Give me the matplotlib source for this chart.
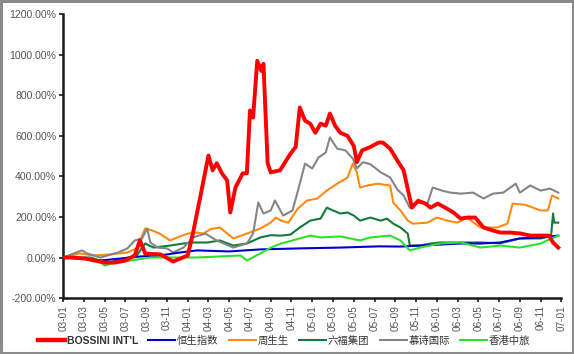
""" Relative performance: Bossini vs HK peers, 2003-2007 """

import matplotlib
matplotlib.use('Agg')
import matplotlib.pyplot as plt
from matplotlib.ticker import FuncFormatter
from matplotlib.patches import Rectangle

plt.rcParams['font.family'] = ['Liberation Sans', 'Noto Sans CJK SC', 'DejaVu Sans']

# data: x in months since 2003-01, y in % change

tick_labels = ['03-01', '03-03', '03-05', '03-07', '03-09', '03-11',
               '04-01', '04-03', '04-05', '04-07', '04-09', '04-11',
               '05-01', '05-03', '05-05', '05-07', '05-09', '05-11',
               '06-01', '06-03', '06-05', '06-07', '06-09', '06-11', '07-01']

names = ["BOSSINI INT'L", '恒生指数', '周生生', '六福集团', '慕诗国际', '香港中旅']

red_m = [0, 0.7, 2.1, 4.0, 5.0, 6.0, 6.9, 7.4, 7.9, 9.4, 10.6, 12.0, 12.5, 13.2,
         14.0, 14.4, 14.8, 15.3, 15.8, 16.1, 16.6, 17.3, 17.7, 18.0, 18.3, 18.7,
         19.1, 19.3, 19.7, 20.0, 20.9, 21.9, 22.4, 22.8, 23.3, 23.8, 24.3, 24.8,
         25.3, 25.7, 26.2, 26.7, 27.4, 28.0, 28.3, 28.8, 29.6, 30.4, 30.8, 31.5,
         32.2, 32.8, 33.3, 33.6, 34.2, 34.9, 35.4, 36.1, 36.8, 37.6, 38.3, 38.9,
         39.7, 40.5, 41.4, 42.1, 43.1, 44.1, 45.0, 46.0, 46.8, 47.2, 47.7]
red_v = [0, 0, -5, -25, -25, -15, 10, 85, 20, 15, -20, 10, 118, 296,
         503, 430, 465, 415, 380, 222, 345, 415, 415, 725, 690, 970,
         920, 955, 465, 420, 430, 512, 545, 740, 675, 660, 615, 660,
         650, 710, 650, 615, 600, 550, 470, 528, 545, 567, 567, 537,
         478, 430, 315, 246, 280, 266, 246, 266, 246, 222, 192, 197,
         197, 148, 133, 123, 123, 118, 108, 108, 108, 74, 49]

blue_m = [0, 1.8, 3.6, 5.5, 7.4, 9.3, 11.3, 12.9, 16.0, 19.0, 22.8, 26.7,
          30.4, 32.5, 34.4, 38.3, 40.2, 42.1, 44.0, 46.0, 47.7]
blue_v = [0, -5, -15, -5, 5, 10, 25, 35, 30, 40, 45, 49,
          55, 54, 59, 69, 69, 74, 94, 99, 108]

orange_m = [0, 1.6, 2.9, 4.5, 6.2, 7.1, 7.9, 8.6, 9.3, 10.3, 11.0, 12.0, 12.9,
            13.5, 14.2, 15.1, 16.4, 17.7, 19.0, 20.0, 20.5, 21.0, 21.7, 22.6,
            23.5, 24.5, 25.4, 26.4, 27.4, 27.9, 28.3, 28.6, 29.3, 30.3, 31.5,
            31.8, 32.5, 33.2, 33.7, 35.1, 36.0, 37.0, 38.0, 38.9, 40.2, 41.8,
            42.8, 43.3, 44.5, 46.0, 46.7, 47.1, 47.7]
orange_v = [0, 20, 10, 15, 25, 45, 143, 133, 118, 84, 99, 118, 123,
            118, 140, 148, 94, 118, 143, 172, 197, 182, 172, 241,
            281, 291, 330, 364, 394, 463, 419, 345, 355, 364, 355,
            271, 232, 182, 167, 172, 197, 182, 172, 197, 148, 148,
            167, 266, 260, 232, 232, 306, 291]

dgreen_m = [0, 2.6, 3.6, 4.5, 5.5, 7.1, 7.9, 8.7, 10.3, 11.6, 12.5, 13.9, 15.1,
            16.4, 17.7, 19.0, 20.0, 21.0, 21.9, 22.8, 23.8, 24.8, 25.4, 26.0,
            26.7, 27.4, 28.0, 28.6, 29.6, 30.6, 31.2, 31.8, 32.5, 33.2, 33.4,
            34.4, 35.4, 36.3, 38.3, 40.2, 42.1, 44.0, 46.0, 47.0, 47.2, 47.3, 47.7]
dgreen_v = [0, 0, -15, -25, -10, 10, 69, 49, 59, 69, 74, 74, 84,
            59, 69, 99, 110, 108, 113, 148, 182, 192, 246, 232,
            217, 222, 207, 182, 197, 182, 192, 167, 148, 118, 59,
            59, 69, 74, 74, 74, 70, 94, 94, 105, 217, 172, 172]

gray_m = [0, 1.8, 2.3, 3.6, 5.3, 6.2, 6.9, 7.6, 8.1, 8.4, 9.1, 10.0, 10.6, 11.6,
          12.5, 13.7, 14.8, 16.4, 17.7, 18.3, 18.8, 19.3, 20.0, 20.4, 21.2, 22.1,
          22.7, 23.3, 24.0, 24.6, 25.3, 25.7, 26.4, 27.2, 27.9, 28.3, 28.9, 29.6,
          30.6, 31.5, 32.2, 32.8, 33.4, 34.1, 35.1, 35.6, 36.5, 37.3, 38.3, 39.5,
          40.5, 41.4, 42.4, 43.6, 44.0, 45.0, 46.0, 46.9, 47.7]
gray_v = [0, 35, 20, 0, 25, 45, 84, 94, 143, 74, 49, 45, 25, 49,
          99, 118, 84, 49, 69, 118, 271, 217, 232, 281, 207, 232,
          345, 463, 439, 493, 518, 592, 537, 528, 488, 440, 470, 460,
          420, 395, 335, 306, 245, 271, 266, 345, 330, 320, 315, 320,
          291, 315, 320, 364, 320, 355, 330, 340, 320]

lgreen_m = [0, 2.6, 3.6, 4.0, 5.0, 6.5, 8.4, 10.3, 12.9, 17.1, 17.7, 19.0, 20.0,
            21.0, 22.8, 23.8, 24.8, 26.7, 28.6, 29.6, 31.5, 32.5, 33.4, 34.4,
            36.3, 38.3, 40.2, 42.1, 44.0, 46.0, 47.7]
lgreen_v = [0, -5, -25, -40, -25, -15, 0, 0, 0, 10, -15, 20, 49,
            69, 94, 108, 99, 104, 84, 99, 108, 84, 35, 49,
            69, 74, 49, 59, 49, 69, 108]

# figure design

fig = plt.figure(figsize=(5.74, 3.54), dpi=100)
ax = fig.add_axes([0.110, 0.158, 0.868, 0.802])

ax.plot(red_m, red_v, color='#ff0000', lw=2.8, label=names[0], zorder=6)
ax.plot(blue_m, blue_v, color='#0000cc', lw=1.5, label=names[1], zorder=4)
ax.plot(orange_m, orange_v, color='#ff8a10', lw=1.5, label=names[2], zorder=3)
ax.plot(dgreen_m, dgreen_v, color='#137a3c', lw=1.5, label=names[3], zorder=3)
ax.plot(gray_m, gray_v, color='#858585', lw=1.5, label=names[4], zorder=3)
ax.plot(lgreen_m, lgreen_v, color='#2ee02e', lw=1.5, label=names[5], zorder=5)

ax.set_xlim(0, 48)
ax.set_ylim(-200, 1200)
ax.set_xticks(range(0, 49, 2))
ax.set_xticklabels(tick_labels, rotation=90)
ax.set_yticks(range(-200, 1201, 200))
ax.yaxis.set_major_formatter(FuncFormatter(lambda v, p: f'{v:.2f}%'))

for s in ['top', 'right']:
    ax.spines[s].set_visible(False)
for s in ['left', 'bottom']:
    ax.spines[s].set_linewidth(1.8)
    ax.spines[s].set_color('#1a1a1a')
ax.tick_params(axis='both', length=3, width=1.2, color='#1a1a1a',
               labelcolor='#555555', pad=2)
ax.tick_params(axis='y', labelsize=7.6)
ax.tick_params(axis='x', labelsize=7.2)

leg = fig.legend(loc='center', bbox_to_anchor=(0.495, 0.037), ncol=6, frameon=False,
                 fontsize=7.5, handlelength=2.6, columnspacing=1.0, handletextpad=0.15)
for t in leg.get_texts():
    t.set_color('#333333')
leg.get_texts()[0].set_fontweight('bold')
leg.get_lines()[0].set_linewidth(3.2)

# outer frame
fig.patches.append(Rectangle((0.002, 0.003), 0.996, 0.994, transform=fig.transFigure,
                             fill=False, edgecolor='#8a8a8a', lw=2.2))

plt.savefig('out.png', dpi=100)
